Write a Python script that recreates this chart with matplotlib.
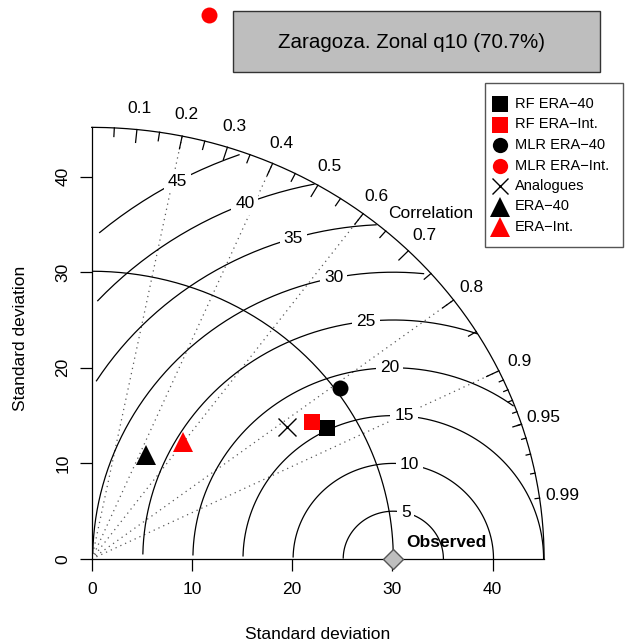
import numpy as np
import matplotlib.pyplot as plt
from matplotlib.patches import Rectangle

plt.rcParams['font.family'] = ['Liberation Sans', 'DejaVu Sans']

# observed (reference) standard deviation
sd_obs = 30.1

# downscaling methods: standard deviation and correlation with the observations
models = ["RF ERA-40", "RF ERA-Int.", "MLR ERA-40", "MLR ERA-Int.",
          "Analogues", "ERA-40", "ERA-Int."]
model_sd = [27.17, 26.26, 30.60, 58.10, 23.89, 12.17, 15.20]
model_cor = [0.863, 0.837, 0.811, 0.202, 0.817, 0.448, 0.597]

title = "Zaragoza. Zonal q10 (70.7%)"
gamma_levels = [5, 10, 15, 20, 25, 30, 35, 40, 45]
corr_lines = [0.2, 0.4, 0.6, 0.8, 0.9]
corr_labels = [0.1, 0.2, 0.3, 0.4, 0.5, 0.6, 0.7, 0.8, 0.9, 0.95, 0.99]
axis_ticks = [0, 10, 20, 30, 40]

# styling
markers = ['s', 's', 'o', 'o', 'x', '^', '^']
colors = ['black', 'red', 'black', 'red', 'black', 'black', 'red']
msizes = [11.5, 11.5, 11.5, 11.5, 13, 14.5, 14.5]
leg_msizes = [11, 11, 11, 11, 11.5, 14.5, 14.5]
fs = 12.5
lw = 0.9

W, H = 625, 643
maxsd = 1.5 * sd_obs


def px_box(left, top, width, height):
    return [left / W, 1 - (top + height) / H, width / W, height / H]


fig = plt.figure(figsize=(W / 100, H / 100), dpi=100)
ax = fig.add_axes(px_box(91.7, 559 - 478, 501, 478))
ax.set_xlim(0, 50)
ax.set_ylim(0, 50)
for s in ax.spines.values():
    s.set_visible(False)

# axes
ax.plot([0, 0], [0, maxsd], color='black', lw=lw, clip_on=False)
ax.plot([0, maxsd], [0, 0], color='black', lw=lw, clip_on=False)
ax.set_xticks(axis_ticks)
ax.set_yticks(axis_ticks)
ax.set_xticklabels([str(v) for v in axis_ticks])
ax.set_yticklabels([str(v) for v in axis_ticks])
ax.tick_params(axis='both', length=8.4, width=lw, labelsize=fs)
ax.tick_params(axis='x', pad=8)
ax.tick_params(axis='y', pad=7, labelrotation=90)
for lab in ax.get_yticklabels():
    lab.set_va('center')

# correlation rays
for c in corr_lines:
    ax.plot([0, maxsd * c], [0, maxsd * np.sqrt(1 - c ** 2)],
            color='0.35', lw=0.9, ls=(0, (1, 3.2)), zorder=1)

# centred RMS difference curves around the observed point
t = np.arange(0, np.pi, 0.03)
label_idx = np.floor(np.linspace(45, 70, len(gamma_levels))).astype(int) - 1
for g, li in zip(gamma_levels, label_idx):
    xc = np.cos(t) * g + sd_obs
    yc = np.sin(t) * g
    neg = np.where(xc < 0)[0]
    end = neg.min() - 1 if len(neg) else len(t) - 1
    out = np.where(xc ** 2 + yc ** 2 > maxsd ** 2)[0]
    start = out.max() + 1 if len(out) else 0
    ax.plot(xc[start:end + 1], yc[start:end + 1], color='black', lw=lw, zorder=2)
    if xc[li] > 0:
        ax.text(xc[li], yc[li], str(g), ha='center', va='center', fontsize=fs,
                zorder=3, bbox=dict(fc='white', ec='none', pad=2.8))

# outer correlation arc and its ticks
th = np.linspace(0, np.pi / 2, 200)
ax.plot(np.cos(th) * maxsd, np.sin(th) * maxsd, color='black', lw=lw,
        clip_on=False, zorder=4)
ticks = [(np.arange(0.1, 0.95, 0.1), 0.97),
         (np.arange(0.05, 1.0, 0.1), 0.98),
         (np.arange(0.91, 0.995, 0.01), 0.99)]
for vals, frac in ticks:
    ang = np.arccos(vals)
    for a in ang:
        ax.plot([np.cos(a) * maxsd, np.cos(a) * frac * maxsd],
                [np.sin(a) * maxsd, np.sin(a) * frac * maxsd],
                color='black', lw=lw, clip_on=False, zorder=4)
for c in corr_labels:
    a = np.arccos(c)
    ax.text(np.cos(a) * 1.05 * maxsd, np.sin(a) * 1.05 * maxsd, f"{c:g}",
            ha='center', va='center', fontsize=fs, clip_on=False)
ax.text(0.75 * maxsd, 0.8 * maxsd, "Correlation", ha='center', va='center',
        fontsize=fs)

# reference standard deviation arc
ax.plot(np.cos(th) * sd_obs, np.sin(th) * sd_obs, color='black', lw=lw, zorder=4)
ax.plot(sd_obs, 0, 'D', ms=9.7, mfc='#BEBEBE', mec='#555555', mew=1,
        clip_on=False, zorder=6)
ax.text(sd_obs + 1.25, 1.7, "Observed", ha='left', va='center', fontsize=fs,
        fontweight='bold', zorder=5)

# model points
for sd, cor, m, col, ms in zip(model_sd, model_cor, markers, colors, msizes):
    x = sd * cor
    y = sd * np.sqrt(1 - cor ** 2)
    ax.plot(x, y, marker=m, ms=ms, color=col, mew=1 if m == 'x' else 0,
            ls='none', clip_on=False, zorder=7)

# overlay in pixel coordinates for labels, title box and legend
ov = fig.add_axes([0, 0, 1, 1])
ov.set_xlim(0, W)
ov.set_ylim(H, 0)
ov.axis('off')

ov.text(317.5, 639, "Standard deviation", ha='center', va='baseline', fontsize=fs)
ov.text(25, 338, "Standard deviation", ha='center', va='baseline', fontsize=fs,
        rotation=90, rotation_mode='anchor')

ov.add_patch(Rectangle((233, 11), 367, 61, fc='#BEBEBE', ec='#333333', lw=1))
ov.text(412, 43, title, ha='center', va='center', fontsize=14.8)

ov.add_patch(Rectangle((485, 83), 138, 164, fc='white', ec='#555555', lw=1))
for i, (name, m, col, ms) in enumerate(zip(models, markers, colors, leg_msizes)):
    yy = 104 + 20.5 * i
    ov.plot(500, yy, marker=m, ms=ms, color=col, mew=1 if m == 'x' else 0, ls='none')
    ov.text(515, yy, name.replace('-', '\u2212'), ha='left', va='center',
            fontsize=10.5)

fig.savefig('out.png', dpi=100)
